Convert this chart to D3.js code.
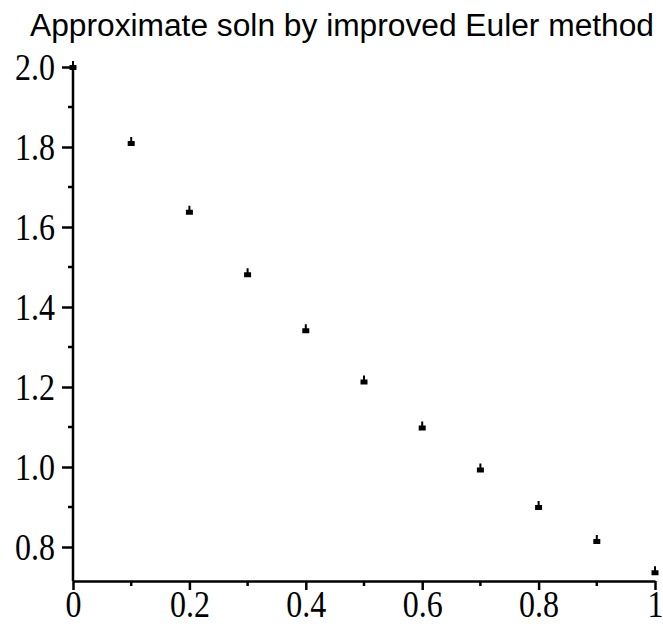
<!DOCTYPE html>
<html>
<head>
<meta charset="utf-8">
<script src="https://cdn.jsdelivr.net/npm/d3@7"></script>
<style>
  body { margin: 0; background: #fff; }
  svg { display: block; }
  .tick text { font-family: "Liberation Serif", "Times New Roman", serif; }
</style>
</head>
<body>
<svg id="chart" width="663" height="624"></svg>
<script>
// data
const xs = [0, 0.1, 0.2, 0.3, 0.4, 0.5, 0.6, 0.7, 0.8, 0.9, 1.0]
const ys = [2.0, 1.81, 1.638, 1.482, 1.342, 1.214, 1.099, 0.994, 0.900, 0.815, 0.737]
const xTicks = [0, 0.2, 0.4, 0.6, 0.8, 1]
const xTickLabels = ["0", "0.2", "0.4", "0.6", "0.8", "1"]
const yTicks = [0.8, 1.0, 1.2, 1.4, 1.6, 1.8, 2.0]
const xMinor = [0.1, 0.3, 0.5, 0.7, 0.9]
const yMinor = [0.9, 1.1, 1.3, 1.5, 1.7, 1.9]

const svg = d3.select("#chart")

const x = d3.scaleLinear().domain([0, 1]).range([73, 655])
const y = d3.scaleLinear().domain([0.8, 2.0]).range([547, 67])
const yBottom = 0.715

// title (the original is a bit tall and narrow)
svg.append("text")
    .attr("x", 30)
    .attr("y", 36)
    .attr("textLength", 624)
    .attr("lengthAdjust", "spacingAndGlyphs")
    .style("font-family", "Liberation Sans, Arial, sans-serif")
    .style("font-size", "31px")
    .text("Approximate soln by improved Euler method")

// x axis
const xAxis = svg.append("g")
    .attr("transform", `translate(0,${y(yBottom)})`)
    .call(d3.axisBottom(x).tickValues(xTicks).tickFormat((d, i) => xTickLabels[i])
        .tickSize(9).tickSizeOuter(0).tickPadding(2))
xAxis.select(".domain").attr("stroke-width", 2.5)
xAxis.selectAll(".tick line").attr("stroke-width", 2.5)
xAxis.selectAll(".tick text")
    .style("font-size", "32px")
    .attr("y", 8)
    .attr("transform", "scale(1,1.16)")
xAxis.selectAll(".minor")
    .data(xMinor)
    .join("line")
    .attr("x1", d => x(d)).attr("x2", d => x(d))
    .attr("y1", 0).attr("y2", 5)
    .attr("stroke", "#000").attr("stroke-width", 2.5)

// y axis
const yAxis = svg.append("g")
    .attr("transform", `translate(${x(0)},0)`)
    .call(d3.axisLeft(y).tickValues(yTicks).tickFormat(d3.format(".1f"))
        .tickSize(11).tickSizeOuter(0).tickPadding(7))
yAxis.select(".domain").attr("d", `M0,${y(2.0) - 1}V${y(yBottom)}`).attr("stroke-width", 2.5)
yAxis.selectAll(".tick line").attr("stroke-width", 2.5)
yAxis.selectAll(".tick text")
    .style("font-size", "32px")
    .attr("dy", "0.32em")
    .attr("transform", "scale(1,1.18)")
yAxis.selectAll(".minor")
    .data(yMinor)
    .join("line")
    .attr("x1", -5).attr("x2", 0)
    .attr("y1", d => y(d)).attr("y2", d => y(d))
    .attr("stroke", "#000").attr("stroke-width", 2.5)

// points: small Maple-style marker
const marker = "M-1,-6H1V-2H3.5V3H-3.5V-2H-1Z"
const pts = xs.map((d, i) => [d, ys[i]])
svg.selectAll(".pt")
    .data(pts)
    .join("path")
    .attr("class", "pt")
    .attr("transform", d => `translate(${x(d[0])},${y(d[1])})`)
    .attr("d", marker)
    .attr("fill", "#000")
</script>
</body>
</html>
